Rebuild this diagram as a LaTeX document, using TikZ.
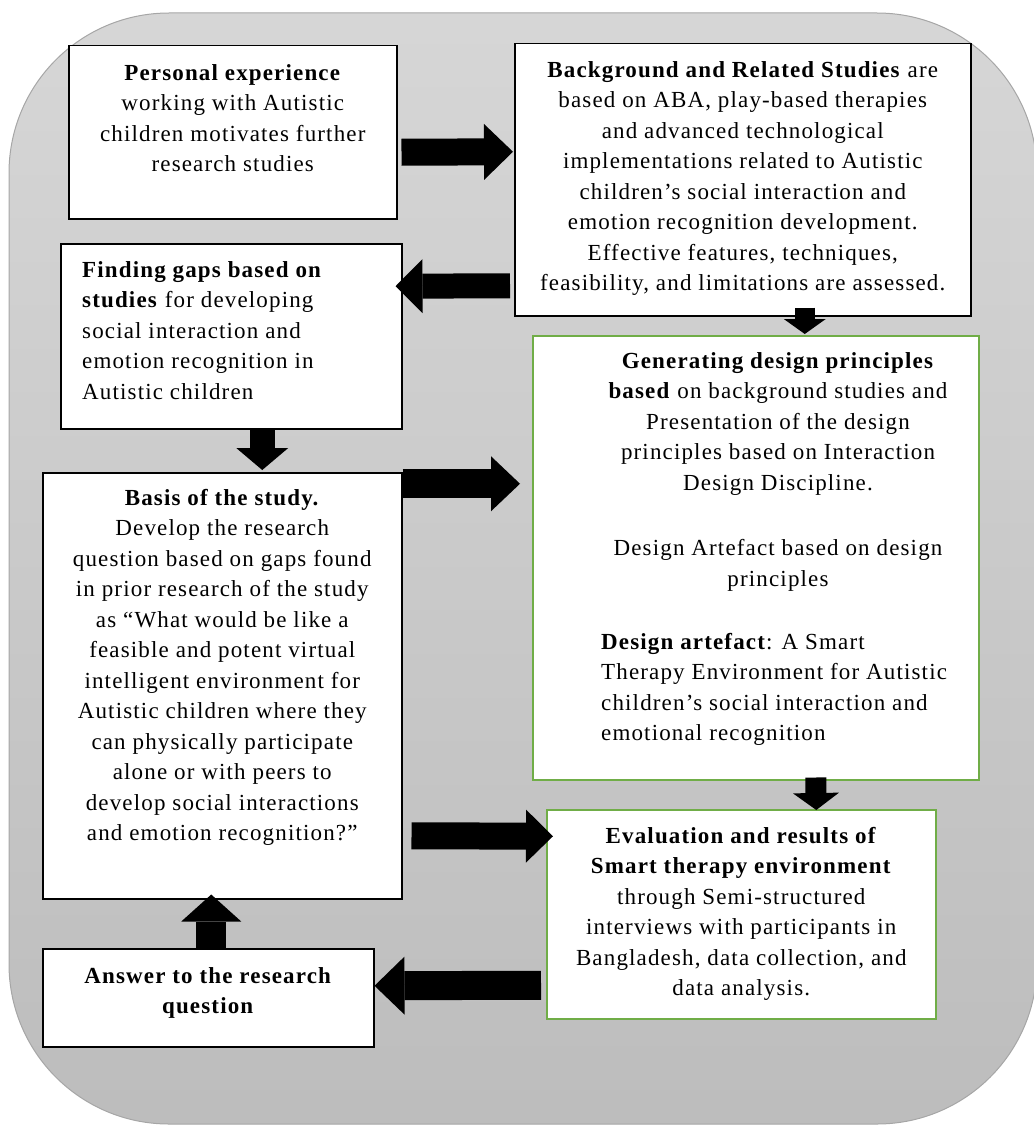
\documentclass[tikz,border=0pt]{standalone}
\usepackage{fontspec}
\setmainfont[LetterSpace=5]{Liberation Serif}
\usetikzlibrary{positioning,arrows.meta,calc}

\definecolor{boxgreen}{HTML}{70AD47}
\definecolor{panelline}{HTML}{A6A6A6}

\tikzset{
    box/.style={draw=black, line width=1.5pt, fill=white, inner sep=0pt, anchor=north west},
    greenbox/.style={box, draw=boxgreen},
    txt/.style={inner sep=0pt, font=\fontsize{23}{30.5}\selectfont, align=center, anchor=north},
    blockarrow/.style n args={3}{line width=#1, -{Triangle[length=#2, width=#3, line width=0pt]}}
}

\begin{document}
\begin{tikzpicture}[x=1pt,y=-1pt]
    \useasboundingbox (0,0) rectangle (1033,1132);
    % grey panel behind everything
    \shadedraw[top color=white!84!black, bottom color=white!74!black, draw=panelline, line width=1pt,
        rounded corners=160pt] (9,13) rectangle (1037,1124);

    % boxes
    \node[box, minimum width=328pt, minimum height=173pt] (pers) at (68,45) {};
    \node[box, minimum width=456pt, minimum height=272pt] (back) at (514,43) {};
    \node[box, minimum width=341pt, minimum height=185pt] (gaps) at (60,243) {};
    \node[box, minimum width=359pt, minimum height=426pt] (basis) at (42,472) {};
    \node[box, minimum width=331pt, minimum height=98pt] (answer) at (42,948) {};
    \node[greenbox, minimum width=446pt, minimum height=444pt] (design) at (532,335) {};
    \node[greenbox, minimum width=389pt, minimum height=209pt] (eval) at (546,809) {};

    % texts
    \node[txt] (perstxt) at ($(pers.north)+(0,19)$)
        {\textbf{Personal experience}\\working with Autistic\\children motivates further\\research studies};
    \node[txt] (backtxt) at ($(back.north)+(0,18)$)
        {\textbf{Background and Related Studies} are\\based on ABA, play-based therapies\\and advanced technological\\implementations related to Autistic\\children’s social interaction and\\emotion recognition development.\\Effective features, techniques,\\feasibility, and limitations are assessed.};
    \node[txt, align=left, anchor=north west] (gapstxt) at (82,261)
        {\textbf{Finding gaps based on}\\\textbf{studies} for developing\\social interaction and\\emotion recognition in\\Autistic children};
    \node[txt] (basistxt) at ($(basis.north)+(0,17)$)
        {\textbf{Basis of the study.}\\Develop the research\\question based on gaps found\\in prior research of the study\\as “What would be like a\\feasible and potent virtual\\intelligent environment for\\Autistic children where they\\can physically participate\\alone or with peers to\\develop social interactions\\and emotion recognition?”};
    \node[txt] (answertxt) at ($(answer.north)+(0,19)$)
        {\textbf{Answer to the research}\\\textbf{question}};
    \node[txt] (designtxt) at (778,352)
        {\textbf{Generating design principles}\\\textbf{based} on background studies and\\Presentation of the design\\principles based on Interaction\\Design Discipline.\\[35pt]Design Artefact based on design\\principles};
    \node[txt, align=left, anchor=north west] (artefacttxt) at (601,633)
        {\textbf{Design artefact}: A Smart\\Therapy Environment for Autistic\\children’s social interaction and\\emotional recognition};
    \node[txt] (evaltxt) at ($(eval.north)+(0,18)$)
        {\textbf{Evaluation and results of}\\\textbf{Smart therapy environment}\\through Semi-structured\\interviews with participants in\\Bangladesh, data collection, and\\data analysis.};

    % block arrows
    \draw[blockarrow={27pt}{29pt}{56pt}] ($(pers.east)+(4,20)$) -- ($(back.west)+(-1,-28)$);
    \draw[blockarrow={25pt}{27pt}{54pt}] ($(back.west)+(-4,106)$) -- ($(gaps.east)+(-7,-50)$);
    \draw[blockarrow={20pt}{15pt}{42pt}] ($(back.south)+(62,-9)$) -- ($(design.north)+(49,-1)$);
    \draw[blockarrow={25pt}{22pt}{52pt}] ($(gaps.south)+(31,0)$) -- ($(basis.north)+(40,-2)$);
    \draw[blockarrow={29pt}{29pt}{55pt}] ($(basis.east)+(0,-202)$) -- ($(design.west)+(-12,-74)$);
    \draw[blockarrow={27pt}{27pt}{53pt}] ($(basis.east)+(9,150)$) -- ($(eval.west)+(7,-78)$);
    \draw[blockarrow={21pt}{17pt}{46pt}] ($(design.south)+(60,-3)$) -- ($(eval.north)+(75,1)$);
    \draw[blockarrow={29pt}{30pt}{58pt}] ($(eval.west)+(-5,71)$) -- ($(answer.east)+(0,-12)$);
    \draw[blockarrow={30pt}{27pt}{60pt}] ($(answer.north)+(3,0)$) -- ($(basis.south)+(-11,-5)$);
\end{tikzpicture}
\end{document}
